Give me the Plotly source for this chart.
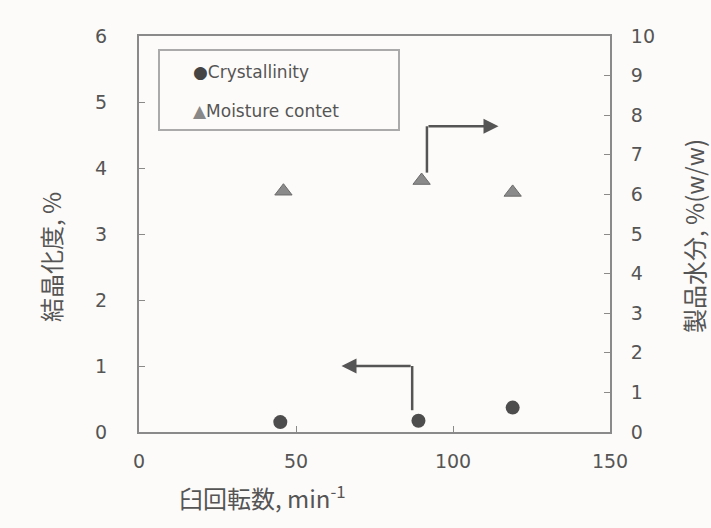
import plotly.graph_objects as go

# Data
speed = [45, 89, 119]
crystallinity = [0.15, 0.17, 0.37]
speed_m = [46, 90, 119]
moisture = [6.08, 6.35, 6.05]

x_ticks = [0, 50, 100, 150]
y_ticks = [0, 1, 2, 3, 4, 5, 6]
y2_ticks = list(range(0, 11))

W, H = 711, 528
L, R, T, B = 139, 101, 36, 96

fig = go.Figure()
fig.add_trace(go.Scatter(x=speed, y=crystallinity, mode="markers",
                         marker=dict(symbol="circle", size=14, color="#4d4d4d"),
                         name="Crystallinity", yaxis="y"))
fig.add_trace(go.Scatter(x=speed_m, y=moisture, mode="markers",
                         marker=dict(symbol="triangle-up", size=15, color="#8a8a8a",
                                     line=dict(color="#6a6a6a", width=1)),
                         name="Moisture contet", yaxis="y2"))

axis_font = dict(family="DejaVu Sans, sans-serif", size=19, color="#555555")

fig.update_layout(
    width=W, height=H,
    margin=dict(l=L, r=R, t=T, b=B),
    paper_bgcolor="#fdfbf9", plot_bgcolor="#fdfbf9",
    showlegend=False,
    xaxis=dict(range=[0, 150], tickvals=x_ticks, showgrid=False, zeroline=False,
               showline=True, linecolor="#8a8a8a", linewidth=2, mirror=True,
               ticks="inside", ticklen=6, tickcolor="#8a8a8a", tickfont=axis_font,
               ticklabelstandoff=11),
    yaxis=dict(range=[0, 6], tickvals=y_ticks, showgrid=False, zeroline=False,
               showline=True, linecolor="#8a8a8a", linewidth=2,
               ticks="inside", ticklen=6, tickcolor="#8a8a8a", tickfont=axis_font,
               ticklabelstandoff=26),
    yaxis2=dict(range=[0, 10], tickvals=y2_ticks, overlaying="y", side="right",
                showgrid=False, zeroline=False, showline=True, linecolor="#8a8a8a",
                linewidth=2, ticks="inside", ticklen=6, tickcolor="#8a8a8a",
                tickfont=axis_font, ticklabelstandoff=15),
)

pw, ph = W - L - R, H - T - B
def px(x): return (x - L) / pw
def py(y): return (H - B - y) / ph

jp_font = dict(family="Noto Sans CJK JP, sans-serif", size=24, color="#555555")

# Axis titles as annotations
fig.add_annotation(text="臼回転数, min<sup>-1</sup>", xref="paper", yref="paper",
                   x=px(262), y=py(497),
                   showarrow=False, font=jp_font, xanchor="center", yanchor="middle")
fig.add_annotation(text="結晶化度, %", xref="paper", yref="paper",
                   x=px(50), y=py(257),
                   showarrow=False, font=jp_font, textangle=-90,
                   xanchor="center", yanchor="middle")
fig.add_annotation(text="製品水分, %(w/w)", xref="paper", yref="paper",
                   x=px(694), y=py(236),
                   showarrow=False, font=jp_font, textangle=-90,
                   xanchor="center", yanchor="middle")

# Legend box
fig.add_shape(type="rect", xref="paper", yref="paper",
              x0=px(159), x1=px(399), y0=py(130), y1=py(50),
              line=dict(color="#aaaaaa", width=2), fillcolor="rgba(0,0,0,0)")
leg_font = dict(family="DejaVu Sans, sans-serif", size=17, color="#555555")
fig.add_annotation(text="<span style='color:#444444'>●</span>Crystallinity", xref="paper", yref="paper",
                   x=px(191), y=py(72), showarrow=False, font=leg_font,
                   xanchor="left", yanchor="middle")
fig.add_annotation(text="<span style='color:#888888'>▲</span>Moisture contet", xref="paper", yref="paper",
                   x=px(191), y=py(111), showarrow=False, font=leg_font,
                   xanchor="left", yanchor="middle")

# Arrows
arrow_col = "#555555"
fig.add_shape(type="line", xref="x", yref="y", x0=87, x1=87, y0=0.33, y1=1.0,
              line=dict(color=arrow_col, width=2.5))
fig.add_annotation(x=64.5, y=1.0, ax=87, ay=1.0, xref="x", yref="y",
                   axref="x", ayref="y", showarrow=True, arrowhead=2,
                   arrowsize=1.2, arrowwidth=2.5, arrowcolor=arrow_col, text="")
fig.add_shape(type="line", xref="x", yref="y2", x0=91.7, x1=91.7, y0=6.55, y1=7.72,
              line=dict(color=arrow_col, width=2.5))
fig.add_annotation(x=114.5, y=7.72, ax=91.7, ay=7.72, xref="x", yref="y2",
                   axref="x", ayref="y2", showarrow=True, arrowhead=2,
                   arrowsize=1.2, arrowwidth=2.5, arrowcolor=arrow_col, text="")

fig.write_html("out.html")
